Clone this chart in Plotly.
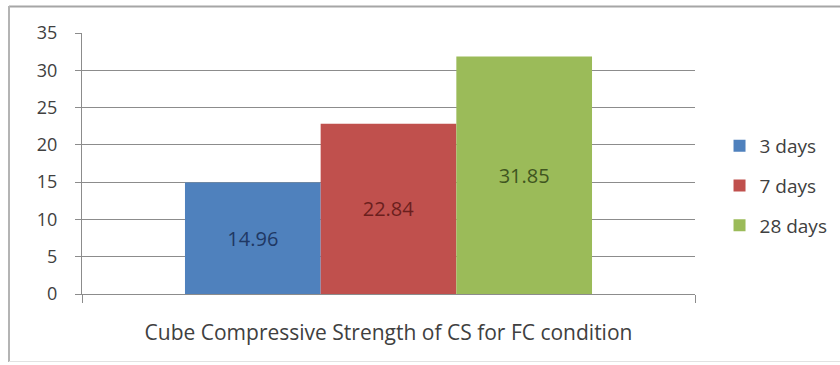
import plotly.graph_objects as go

# Cube compressive strength at each curing age
category = ["Cube Compressive Strength of CS for FC condition"]
series_names = ["3 days", "7 days", "28 days"]
series_values = [[14.96], [22.84], [31.85]]
bar_colors = ["#4f81bd", "#c0504d", "#9bbb59"]
label_colors = ["#1f3864", "#6b1f1d", "#3f5520"]
y_ticks = [0, 5, 10, 15, 20, 25, 30, 35]

FONT = "'Open Sans', Lato, sans-serif"
TEXT = "#404040"
GRID = "#8c8c8c"

# plot area in pixels (used only for placing the outer frame)
L, R, T, B = 82, 695, 33, 294

fig = go.Figure()
for name, vals, col, tcol in zip(series_names, series_values, bar_colors, label_colors):
    fig.add_trace(go.Bar(
        name=name,
        legendgroup=name,
        x=category,
        y=vals,
        marker=dict(color=col, line=dict(width=0)),
        text=[f"{v:.2f}" for v in vals],
        textposition="inside",
        insidetextanchor="middle",
        textangle=0,
        textfont=dict(family=FONT, size=20, color=tcol),
    ))

pw, ph = R - L, B - T


def px_x(x):
    return (x - L) / pw


def px_y(y):
    return (B - y) / ph


fig.update_layout(
    width=840,
    height=365,
    barmode="group",
    bargap=0.336,
    bargroupgap=0,
    plot_bgcolor="white",
    paper_bgcolor="white",
    margin=dict(l=L, r=840 - R, t=T, b=365 - B, autoexpand=False),
    font=dict(family=FONT, size=18, color=TEXT),
    showlegend=True,
    legend=dict(
        x=1.04, y=px_y(186), xanchor="left", yanchor="middle",
        font=dict(family=FONT, size=19, color=TEXT),
        tracegroupgap=12,
        bgcolor="rgba(0,0,0,0)",
    ),
    xaxis=dict(
        showline=True,
        linecolor=GRID,
        linewidth=1,
        ticks="outside",
        tickson="boundaries",
        ticklen=8,
        tickcolor=GRID,
        showticklabels=False,
        title=dict(text=category[0], standoff=31,
                   font=dict(family=FONT, size=21, color=TEXT)),
    ),
    yaxis=dict(
        range=[0, 35],
        tickvals=y_ticks,
        showgrid=True,
        gridcolor=GRID,
        gridwidth=1,
        showline=True,
        linecolor=GRID,
        linewidth=1,
        ticks="outside",
        ticklen=6,
        tickcolor=GRID,
        ticklabelstandoff=14,
        zeroline=False,
        tickfont=dict(family=FONT, size=18, color=TEXT),
    ),
    shapes=[
        # outer chart frame: top, left, bottom edges
        dict(type="line", xref="paper", yref="paper",
             x0=px_x(9), x1=px_x(845), y0=px_y(6.5), y1=px_y(6.5),
             line=dict(color="#a6a6a6", width=2)),
        dict(type="line", xref="paper", yref="paper",
             x0=px_x(9), x1=px_x(9), y0=px_y(6), y1=px_y(362),
             line=dict(color="#b4b4b4", width=2)),
        dict(type="line", xref="paper", yref="paper",
             x0=px_x(9), x1=px_x(845), y0=px_y(361.5), y1=px_y(361.5),
             line=dict(color="#e2e2e2", width=1)),
    ],
)

fig.write_html("out.html")
